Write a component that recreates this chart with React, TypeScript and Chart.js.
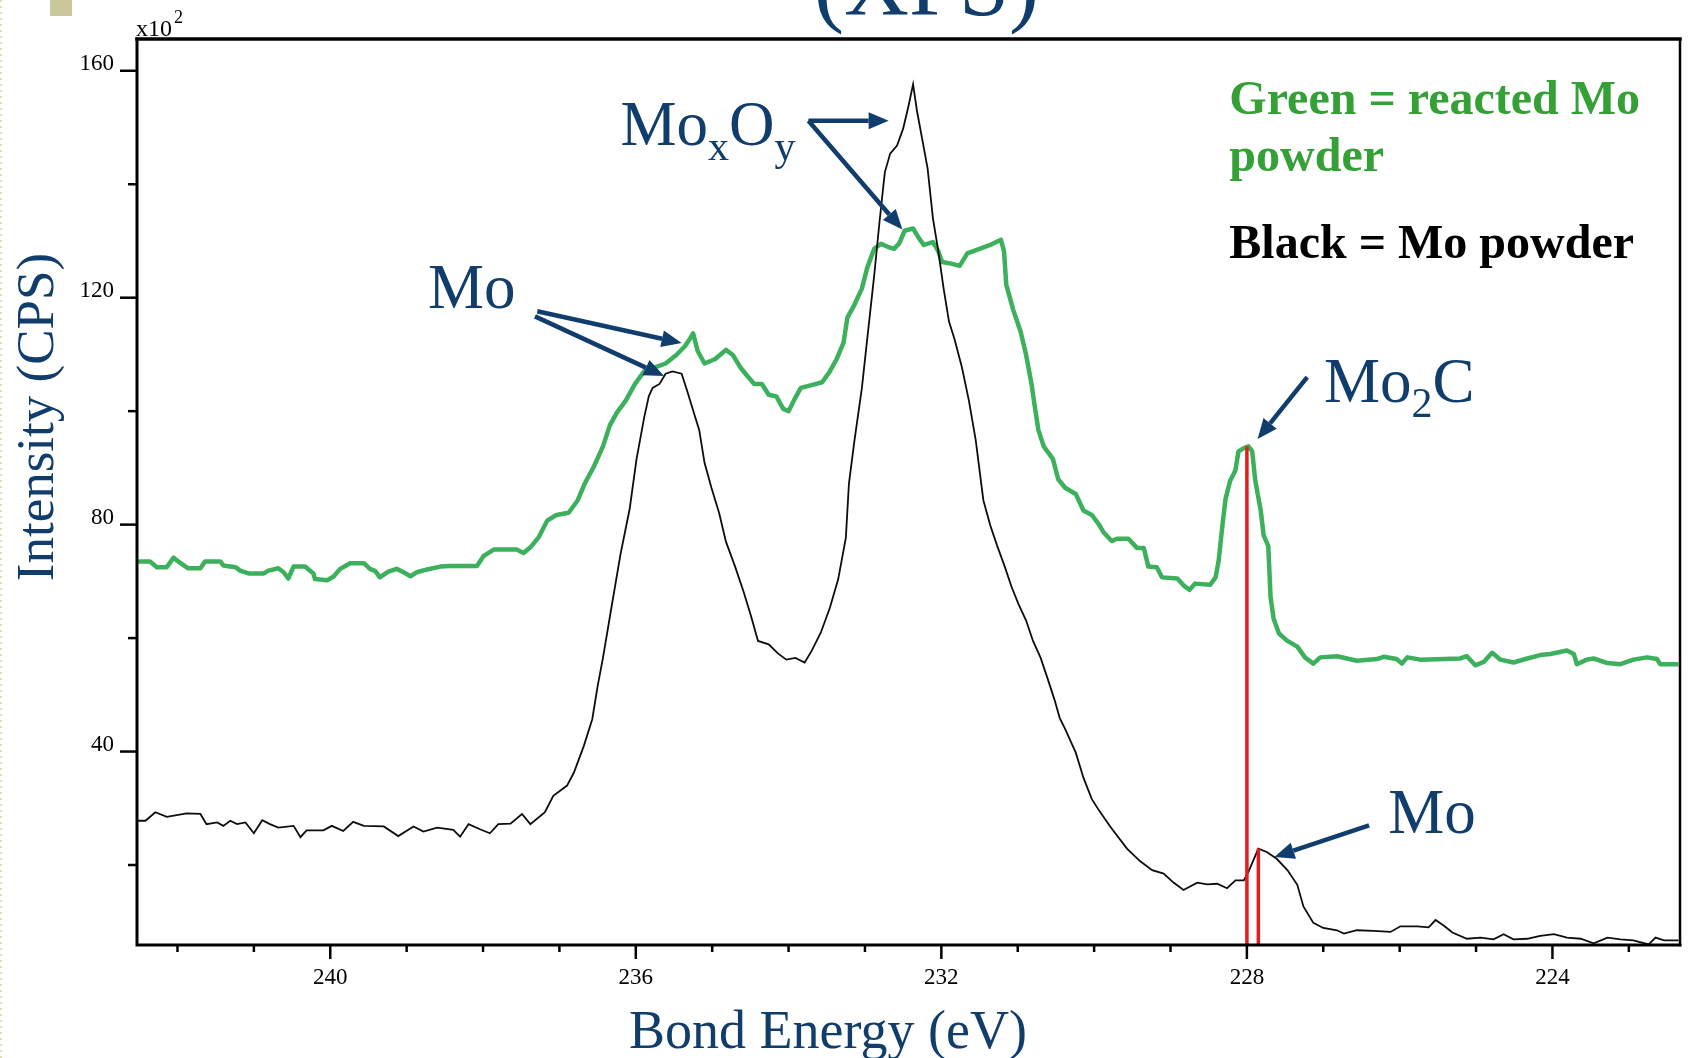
import React, { useEffect, useRef } from "react";
import { Chart, registerables } from "chart.js";

Chart.register(...registerables);

// ---------- data ----------
const greenEnergy = [
  242.53, 242.36, 242.27, 242.14, 242.05, 242.01, 241.86, 241.70, 241.64, 241.44,
  241.40, 241.24, 241.18, 241.07, 240.87, 240.81, 240.68, 240.61, 240.55, 240.48,
  240.33, 240.22, 240.20, 240.04, 239.96, 239.87, 239.74, 239.56, 239.48, 239.41,
  239.35, 239.24, 239.13, 239.04, 238.95, 238.87, 238.73, 238.56, 238.43, 238.08,
  237.99, 237.86, 237.56, 237.47, 237.38, 237.27, 237.16, 237.04, 236.88, 236.76,
  236.67, 236.55, 236.43, 236.34, 236.25, 236.13, 236.01, 235.89, 235.75, 235.61,
  235.47, 235.36, 235.29, 235.25, 235.19, 235.10, 234.96, 234.82, 234.73, 234.63,
  234.54, 234.45, 234.35, 234.26, 234.16, 234.07, 234.00, 233.93, 233.84, 233.70,
  233.56, 233.46, 233.37, 233.28, 233.23, 233.14, 233.04, 232.97, 232.88, 232.79,
  232.69, 232.62, 232.55, 232.48, 232.37, 232.29, 232.23, 232.11, 232.04, 231.99,
  231.87, 231.76, 231.66, 231.50, 231.36, 231.22, 231.18, 231.15, 231.06, 230.96,
  230.89, 230.82, 230.78, 230.73, 230.66, 230.54, 230.47, 230.38, 230.24, 230.14,
  230.03, 229.93, 229.88, 229.77, 229.70, 229.55, 229.44, 229.35, 229.29, 229.18,
  229.11, 228.91, 228.83, 228.75, 228.68, 228.48, 228.41, 228.37, 228.33, 228.28,
  228.22, 228.15, 228.11, 228.04, 227.98, 227.93, 227.89, 227.82, 227.78, 227.72,
  227.69, 227.65, 227.58, 227.47, 227.34, 227.24, 227.13, 227.04, 226.82, 226.56,
  226.30, 226.21, 226.04, 225.97, 225.90, 225.73, 225.21, 225.12, 225.01, 224.90,
  224.79, 224.68, 224.51, 224.33, 224.16, 224.03, 223.81, 223.72, 223.68, 223.55,
  223.46, 223.28, 223.11, 222.94, 222.76, 222.63, 222.59, 222.35,
];
const greenIntensity = [
  73.5, 73.5, 72.5, 72.5, 74.2, 73.7, 72.3, 72.3, 73.5, 73.5,
  72.8, 72.5, 71.9, 71.4, 71.4, 71.9, 72.3, 71.6, 70.5, 72.6,
  72.6, 71.4, 70.4, 70.2, 70.8, 72.2, 73.2, 73.2, 72.2, 71.8,
  70.7, 71.7, 72.2, 71.6, 70.9, 71.6, 72.1, 72.6, 72.7, 72.7,
  74.5, 75.6, 75.6, 75.0, 76.0, 77.8, 80.7, 81.7, 82.1, 84.3,
  87.2, 90.2, 93.8, 97.5, 99.7, 101.9, 104.8, 107.0, 107.7, 108.4,
  109.9, 111.4, 112.8, 113.7, 110.6, 108.4, 109.2, 110.8, 109.9, 107.7,
  106.2, 104.8, 104.8, 102.9, 102.6, 100.4, 100.0, 101.9, 104.1, 104.6,
  105.1, 107.0, 109.2, 112.1, 116.5, 118.7, 121.6, 125.3, 128.6, 129.5,
  128.9, 128.6, 129.6, 131.8, 132.2, 130.4, 129.3, 129.8, 128.2, 126.3,
  126.0, 125.6, 127.8, 128.6, 129.3, 130.2, 128.2, 122.3, 117.9, 113.9,
  109.9, 104.8, 101.1, 96.7, 93.8, 91.6, 88.0, 86.5, 85.4, 82.5,
  81.7, 79.9, 78.7, 77.1, 77.5, 77.5, 75.9, 75.9, 72.6, 72.5,
  70.7, 70.5, 69.3, 68.5, 69.6, 69.4, 70.7, 73.6, 78.7, 84.5,
  87.7, 89.6, 92.9, 93.5, 93.8, 92.9, 87.7, 82.6, 78.1, 76.2,
  67.2, 63.4, 60.8, 59.5, 58.5, 56.6, 55.5, 56.6, 56.8, 56.0,
  56.3, 56.7, 56.3, 55.5, 56.6, 56.2, 56.4, 56.8, 55.2, 55.8,
  57.4, 56.2, 55.7, 56.4, 57.0, 57.2, 57.8, 57.2, 55.4, 56.2,
  56.4, 55.6, 55.4, 56.2, 56.6, 56.3, 55.4, 55.4,
];

const blackEnergy = [
  242.53, 242.42, 242.29, 242.14, 241.88, 241.70, 241.62, 241.48, 241.40, 241.31,
  241.22, 241.11, 241.00, 240.89, 240.79, 240.68, 240.48, 240.39, 240.31, 240.09,
  239.98, 239.83, 239.70, 239.56, 239.30, 239.11, 238.91, 238.78, 238.60, 238.39,
  238.30, 238.19, 238.04, 237.91, 237.80, 237.64, 237.49, 237.38, 237.19, 237.08,
  236.90, 236.81, 236.68, 236.57, 236.50, 236.43, 236.32, 236.20, 236.08, 235.99,
  235.89, 235.83, 235.78, 235.69, 235.61, 235.52, 235.40, 235.33, 235.24, 235.17,
  235.10, 235.01, 234.91, 234.82, 234.70, 234.59, 234.49, 234.40, 234.26, 234.14,
  234.03, 233.91, 233.79, 233.70, 233.58, 233.46, 233.35, 233.25, 233.21, 233.14,
  233.04, 232.97, 232.88, 232.81, 232.74, 232.67, 232.58, 232.50, 232.43, 232.37,
  232.32, 232.25, 232.18, 232.11, 232.04, 231.97, 231.90, 231.83, 231.73, 231.64,
  231.55, 231.45, 231.36, 231.27, 231.17, 231.08, 230.99, 230.89, 230.80, 230.70,
  230.61, 230.52, 230.45, 230.38, 230.24, 230.14, 230.03, 229.93, 229.79, 229.57,
  229.40, 229.24, 229.09, 228.96, 228.83, 228.65, 228.52, 228.39, 228.26, 228.15,
  228.04, 227.98, 227.91, 227.85, 227.74, 227.61, 227.47, 227.34, 227.26, 227.13,
  227.00, 226.82, 226.73, 226.56, 226.34, 226.12, 225.99, 225.77, 225.62, 225.53,
  225.42, 225.31, 225.12, 224.94, 224.77, 224.64, 224.51, 224.33, 224.16, 223.98,
  223.81, 223.63, 223.46, 223.28, 223.11, 222.94, 222.74, 222.65, 222.54, 222.35,
];
const blackIntensity = [
  27.8, 27.8, 29.3, 28.5, 29.1, 29.0, 27.2, 27.5, 26.9, 27.8,
  27.2, 27.5, 25.6, 27.9, 27.2, 26.6, 26.9, 24.9, 26.1, 26.1,
  26.9, 26.0, 27.6, 26.9, 26.8, 25.1, 26.8, 25.9, 26.6, 26.2,
  25.0, 27.2, 26.3, 25.6, 27.2, 27.3, 29.0, 27.2, 29.3, 32.2,
  34.0, 36.3, 41.0, 45.7, 51.5, 56.5, 65.3, 74.8, 82.8, 91.6,
  98.9, 102.6, 104.1, 104.8, 106.6, 107.0, 106.6, 103.7, 99.7, 96.7,
  90.9, 86.5, 82.1, 77.0, 72.6, 68.2, 63.8, 59.5, 58.9, 57.3,
  56.2, 56.5, 55.7, 57.7, 60.9, 65.3, 70.4, 77.7, 87.2, 94.6,
  104.1, 112.8, 123.8, 133.3, 142.1, 145.4, 146.8, 149.8, 153.8, 157.6,
  153.0, 147.9, 142.8, 134.0, 128.2, 121.6, 115.8, 112.8, 107.7, 101.9,
  94.9, 84.3, 79.9, 76.3, 72.6, 69.0, 66.0, 63.1, 59.5, 56.5,
  52.9, 49.2, 45.9, 44.0, 39.8, 35.4, 31.6, 29.5, 26.8, 22.9,
  20.7, 19.1, 18.5, 16.9, 15.6, 16.9, 16.6, 16.7, 15.9, 17.3,
  17.3, 18.8, 21.0, 22.9, 22.3, 21.1, 19.1, 16.5, 12.7, 9.8,
  8.9, 8.5, 7.9, 8.5, 8.4, 8.2, 9.2, 9.2, 9.0, 10.3,
  9.3, 8.1, 7.0, 7.2, 6.9, 7.8, 6.9, 7.0, 7.5, 7.8,
  7.2, 7.0, 6.2, 7.2, 6.9, 6.7, 6.0, 7.2, 6.7, 6.7,
];

// red marker lines (energy, top intensity)
const markerEnergy = [228.0, 227.85];
const markerTop = [93.8, 22.9];

// axes
const xTickValues = [223, 224, 225, 226, 227, 228, 229, 230, 231, 232, 233, 234, 235, 236, 237, 238, 239, 240, 241, 242];
const xTickLabels = [224, 228, 232, 236, 240];
const yTickValues = [20, 40, 60, 80, 100, 120, 140, 160];
const yTickLabels = [40, 80, 120, 160];
const xRange = [222.33, 242.53];
const yRange = [5.9, 165.6];

// annotations (anchored in data space: energy, intensity)
const noteLabels = [
  { parts: [{ text: "Mo" }], at: [238.72, 118.2] },
  { parts: [{ text: "Mo" }, { text: "x", sub: true }, { text: "O" }, { text: "y", sub: true }], at: [236.2, 146.95] },
  { parts: [{ text: "Mo" }, { text: "2", sub: true }, { text: "C" }], at: [226.99, 101.6] },
  { parts: [{ text: "Mo" }], at: [226.15, 25.6] },
];
const noteArrows = [
  { from: [237.29, 117.6], to: [235.4, 112.0] },
  { from: [237.32, 116.7], to: [235.63, 106.2] },
  { from: [233.74, 151.2], to: [232.69, 151.2] },
  { from: [233.74, 151.2], to: [232.51, 132.0] },
  { from: [227.21, 106.0], to: [227.86, 95.1] },
  { from: [226.4, 27.0], to: [227.64, 21.4] },
];
const legendLines = [
  { text: "Green = reacted Mo", color: "#35a035", at: [228.23, 152.4] },
  { text: "powder", color: "#35a035", at: [228.23, 142.4] },
  { text: "Black = Mo powder", color: "#000000", at: [228.23, 127.0] },
];

const BLUE = "#113d6d";
const SERIF = '"Liberation Serif", "Times New Roman", serif';

function drawArrow(ctx: CanvasRenderingContext2D, x1: number, y1: number, x2: number, y2: number) {
  const ang = Math.atan2(y2 - y1, x2 - x1);
  const head = 20;
  const hw = 8.5;
  const bx = x2 - head * Math.cos(ang);
  const by = y2 - head * Math.sin(ang);
  ctx.strokeStyle = BLUE;
  ctx.fillStyle = BLUE;
  ctx.lineWidth = 4.5;
  ctx.lineCap = "butt";
  ctx.beginPath();
  ctx.moveTo(x1, y1);
  ctx.lineTo(bx, by);
  ctx.stroke();
  ctx.beginPath();
  ctx.moveTo(x2, y2);
  ctx.lineTo(bx + hw * Math.sin(ang), by - hw * Math.cos(ang));
  ctx.lineTo(bx - hw * Math.sin(ang), by + hw * Math.cos(ang));
  ctx.closePath();
  ctx.fill();
}

function drawRich(ctx: CanvasRenderingContext2D, parts: { text: string; sub?: boolean }[], x: number, y: number) {
  let cx = x;
  for (const p of parts) {
    const size = p.sub ? 42 : 63;
    ctx.font = `${size}px ${SERIF}`;
    ctx.fillText(p.text, cx, y + (p.sub ? 15 : 0));
    cx += ctx.measureText(p.text).width;
  }
}

const decorPlugin = {
  id: "slideDecor",
  afterDraw(chart: any) {
    const { ctx, chartArea: ca, scales } = chart;
    const xs = scales.x;
    const ys = scales.y;
    const px = (e: number) => xs.getPixelForValue(e);
    const py = (v: number) => ys.getPixelForValue(v);
    ctx.save();

    // frame
    ctx.strokeStyle = "#000";
    ctx.lineCap = "square";
    ctx.lineWidth = 3.5;
    ctx.beginPath();
    ctx.moveTo(ca.left, ca.top);
    ctx.lineTo(ca.right, ca.top);
    ctx.stroke();
    ctx.lineWidth = 3;
    ctx.beginPath();
    ctx.moveTo(ca.left, ca.top);
    ctx.lineTo(ca.left, ca.bottom);
    ctx.lineTo(ca.right, ca.bottom);
    ctx.stroke();
    ctx.lineWidth = 2.5;
    ctx.beginPath();
    ctx.moveTo(ca.right, ca.top);
    ctx.lineTo(ca.right, ca.bottom);
    ctx.stroke();

    // ticks
    ctx.lineCap = "butt";
    ctx.lineWidth = 2.5;
    for (const t of ys.ticks) {
      const y = py(t.value);
      const len = yTickLabels.includes(t.value) ? 17 : 9;
      ctx.beginPath();
      ctx.moveTo(ca.left - len, y);
      ctx.lineTo(ca.left, y);
      ctx.stroke();
    }
    for (const t of xs.ticks) {
      const x = px(t.value);
      const len = xTickLabels.includes(t.value) ? 14 : 7;
      ctx.beginPath();
      ctx.moveTo(x, ca.bottom);
      ctx.lineTo(x, ca.bottom + len);
      ctx.stroke();
    }

    // multiplier x10^2
    ctx.fillStyle = "#000";
    ctx.textAlign = "left";
    ctx.textBaseline = "alphabetic";
    ctx.font = `24px ${SERIF}`;
    ctx.fillText("x10", ca.left - 1, ca.top - 3);
    const w10 = ctx.measureText("x10").width;
    ctx.font = `18px ${SERIF}`;
    ctx.fillText("2", ca.left + 1 + w10, ca.top - 16);

    // slide decorations
    ctx.fillStyle = "#c9c79b";
    ctx.fillRect(50, 0, 22, 16);
    ctx.strokeStyle = "#e2dcb4";
    ctx.lineWidth = 2;
    ctx.setLineDash([2, 4]);
    ctx.beginPath();
    ctx.moveTo(1, 0);
    ctx.lineTo(1, 1058);
    ctx.stroke();
    ctx.setLineDash([]);

    // title (cut at top)
    ctx.fillStyle = BLUE;
    ctx.font = `90px ${SERIF}`;
    ctx.textAlign = "left";
    ctx.fillText("(XPS)", 814, 15);

    // axis titles
    ctx.font = `54px ${SERIF}`;
    ctx.textAlign = "center";
    ctx.fillText("Bond Energy (eV)", 828, 1048);
    ctx.save();
    ctx.translate(53, 417);
    ctx.rotate(-Math.PI / 2);
    ctx.font = `53px ${SERIF}`;
    ctx.fillText("Intensity (CPS)", 0, 0);
    ctx.restore();

    // legend text
    ctx.textAlign = "left";
    ctx.font = `bold 48px ${SERIF}`;
    for (const l of legendLines) {
      ctx.fillStyle = l.color;
      ctx.fillText(l.text, px(l.at[0]), py(l.at[1]));
    }

    // annotation labels
    ctx.fillStyle = BLUE;
    for (const n of noteLabels) {
      drawRich(ctx, n.parts, px(n.at[0]), py(n.at[1]));
    }
    for (const a of noteArrows) {
      drawArrow(ctx, px(a.from[0]), py(a.from[1]), px(a.to[0]), py(a.to[1]));
    }
    ctx.restore();
  },
};

export default function App() {
  const ref = useRef<HTMLCanvasElement | null>(null);

  useEffect(() => {
    if (!ref.current) return;
    const green = greenEnergy.map((e, i) => ({ x: e, y: greenIntensity[i] }));
    const black = blackEnergy.map((e, i) => ({ x: e, y: blackIntensity[i] }));
    const markers = markerEnergy.map((e, i) => ({
      label: `marker${i}`,
      data: [
        { x: e, y: yRange[0] },
        { x: e, y: markerTop[i] },
      ],
      borderColor: "#e31c1c",
      borderWidth: 3.5,
      pointRadius: 0,
      order: 0,
    }));

    const chart = new Chart(ref.current, {
      type: "line",
      data: {
        datasets: [
          ...markers,
          {
            label: "Mo powder",
            data: black,
            borderColor: "#0d0d0d",
            borderWidth: 1.8,
            pointRadius: 0,
            tension: 0,
            order: 1,
          },
          {
            label: "reacted Mo powder",
            data: green,
            borderColor: "#3cb05c",
            borderWidth: 4.5,
            pointRadius: 0,
            tension: 0,
            borderJoinStyle: "round",
            order: 2,
          },
        ],
      },
      options: {
        responsive: false,
        animation: false,
        devicePixelRatio: 1,
        layout: { padding: { top: 39, right: 10, left: 0, bottom: 0 } },
        plugins: {
          legend: { display: false },
          tooltip: { enabled: false },
          title: { display: false },
        },
        elements: { line: { fill: false } },
        scales: {
          x: {
            type: "linear",
            reverse: true,
            min: xRange[0],
            max: xRange[1],
            afterBuildTicks: (s: any) => {
              s.ticks = xTickValues.map((v) => ({ value: v }));
            },
            afterFit: (s: any) => {
              s.height = 113;
            },
            grid: { display: false, drawTicks: false },
            border: { display: false },
            ticks: {
              autoSkip: false,
              maxRotation: 0,
              padding: 19,
              color: "#000",
              font: { family: SERIF, size: 23 },
              callback: (v: any) => (xTickLabels.includes(Number(v)) ? String(v) : ""),
            },
          },
          y: {
            type: "linear",
            min: yRange[0],
            max: yRange[1],
            afterBuildTicks: (s: any) => {
              s.ticks = yTickValues.map((v) => ({ value: v }));
            },
            afterFit: (s: any) => {
              s.width = 137;
            },
            grid: { display: false, drawTicks: false },
            border: { display: false },
            ticks: {
              autoSkip: false,
              padding: 23,
              labelOffset: -7,
              color: "#000",
              font: { family: SERIF, size: 23 },
              callback: (v: any) => (yTickLabels.includes(Number(v)) ? String(v) : ""),
            },
          },
        },
      },
      plugins: [decorPlugin],
    } as any);
    return () => chart.destroy();
  }, []);

  return (
    <div style={{ position: "fixed", left: 0, top: 0, width: 1690, height: 1058, background: "#ffffff" }}>
      <canvas ref={ref} width={1690} height={1058} style={{ display: "block", width: 1690, height: 1058 }} />
    </div>
  );
}
